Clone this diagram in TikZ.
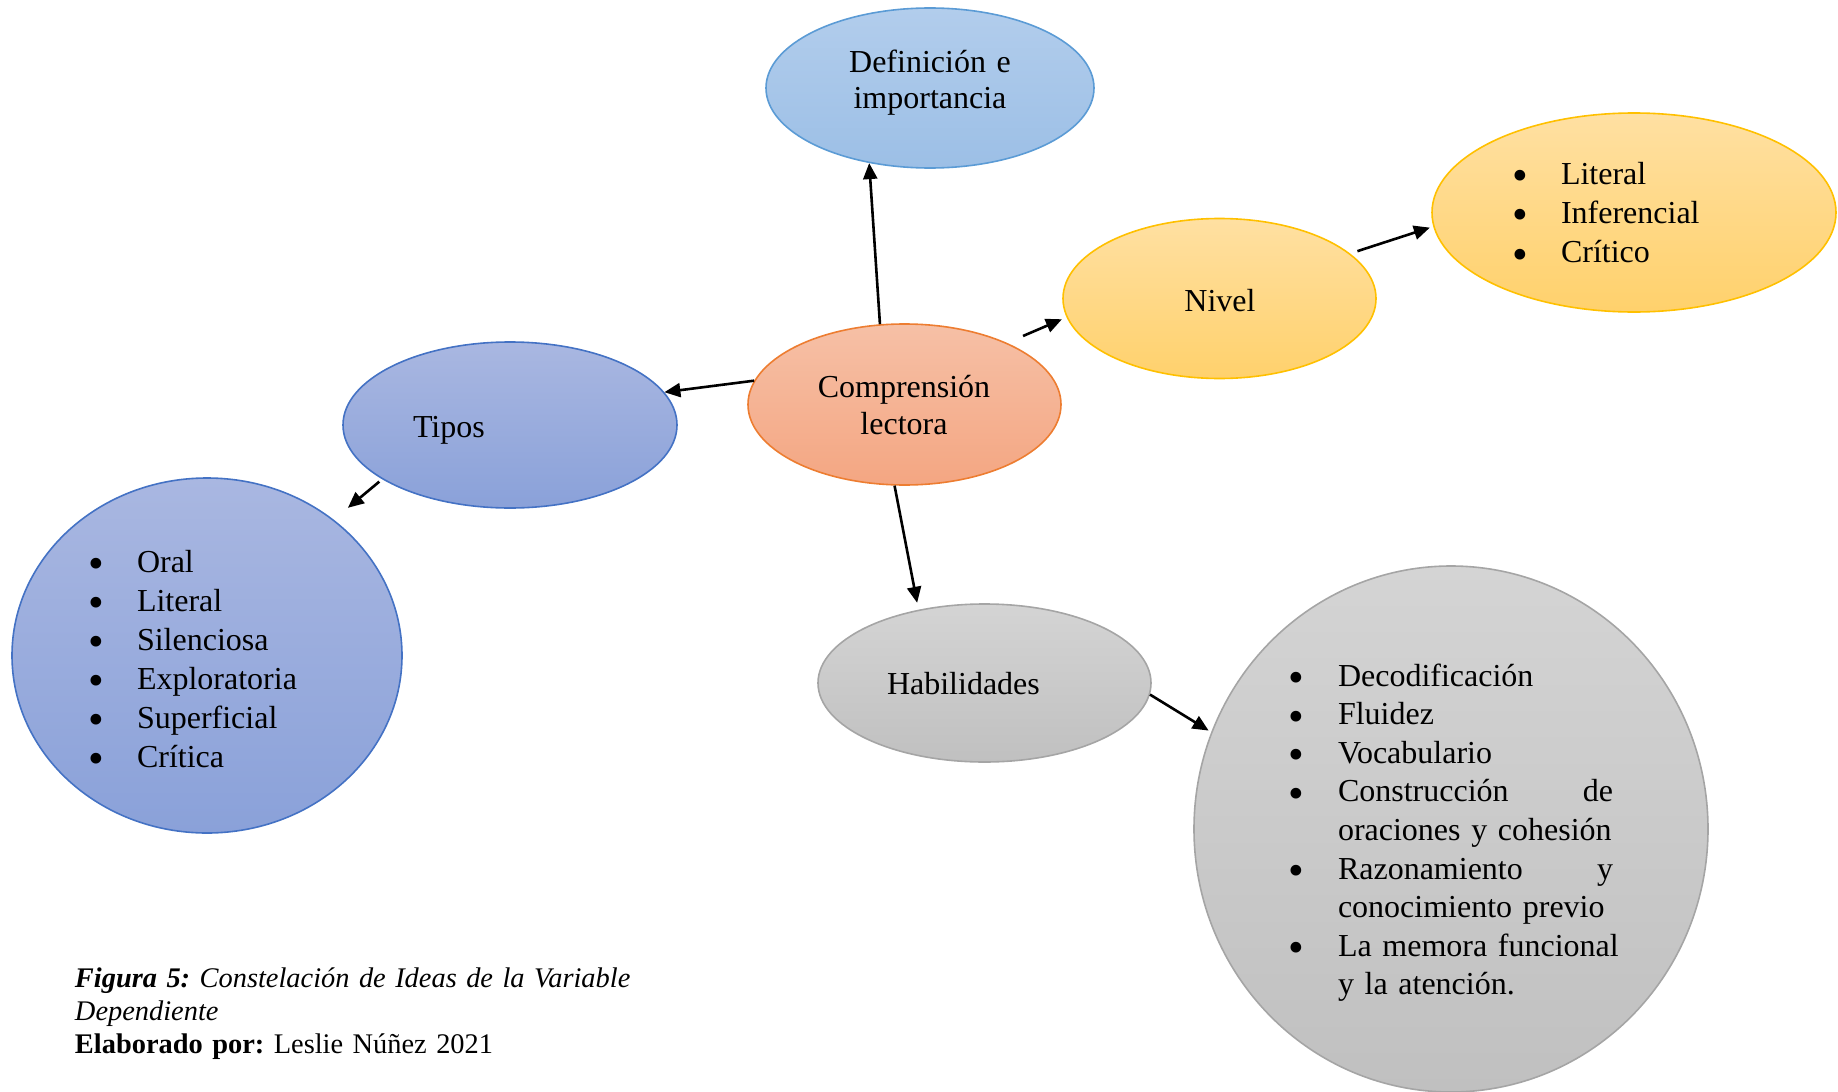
\documentclass[tikz,border=0pt]{standalone}
\usepackage{fontspec}
\setmainfont{Liberation Serif}
\usetikzlibrary{shapes.geometric,arrows.meta}
\definecolor{defB}{HTML}{5B9BD5}\definecolor{defT}{HTML}{B2CDEC}\definecolor{defD}{HTML}{9CBFE6}
\definecolor{cmpB}{HTML}{ED7D31}\definecolor{cmpT}{HTML}{F6C0A6}\definecolor{cmpD}{HTML}{F4A682}
\definecolor{ylwB}{HTML}{FFC000}\definecolor{ylwT}{HTML}{FFE0A2}\definecolor{ylwD}{HTML}{FFD16C}
\definecolor{bluB}{HTML}{4472C4}\definecolor{bluT}{HTML}{A9B7E1}\definecolor{bluD}{HTML}{8AA1D9}
\definecolor{gryB}{HTML}{A5A5A5}\definecolor{gryT}{HTML}{D4D4D4}\definecolor{gryD}{HTML}{C0C0C0}
\frenchspacing
\newlength\bltind
\newlength\bltw
\newcommand\bltmark{\smash{\raisebox{-3.2pt}{\scalebox{1.4}{\textbullet}}}}
\newcommand\bltf[1]{\noindent\hangindent=\bltind\hangafter=1\makebox[\bltind][l]{\bltmark}#1}
\newcommand\blt[1]{\par\bltf{#1}}
\newcommand\jline[1]{\makebox[\bltw][l]{#1}}
\newcommand\brk{\hfil\break}
\tikzset{
  bub/.style={ellipse, inner sep=0pt, line width=0.8pt},
  lbl/.style={font=\fontsize{16}{18.5}\selectfont, inner sep=0pt, outer sep=0pt},
  conn/.style={line width=1.3pt, -{Triangle[length=8pt,width=7pt]}},
}
\begin{document}
\begin{tikzpicture}[x=0.5pt,y=-0.5pt]
\useasboundingbox (0,0) rectangle (1838,1092);
% ellipses
\node[bub, draw=defB, top color=defT, bottom color=defD, minimum width=164pt, minimum height=80pt] (def) at (930,88) {};
\node[bub, draw=cmpB, top color=cmpT, bottom color=cmpD, minimum width=156.5pt, minimum height=80.5pt] (comp) at (904.5,404.5) {};
\node[bub, draw=ylwB, top color=ylwT, bottom color=ylwD, minimum width=156.5pt, minimum height=80pt] (nivel) at (1219.5,298.5) {};
\node[bub, draw=ylwB, top color=ylwT, bottom color=ylwD, minimum width=202pt, minimum height=99.5pt] (lit) at (1634,212.5) {};
\node[bub, draw=bluB, top color=bluT, bottom color=bluD, minimum width=167pt, minimum height=83pt] (tipos) at (510,425) {};
\node[bub, draw=bluB, top color=bluT, bottom color=bluD, minimum width=195pt, minimum height=177.5pt] (oral) at (207,655.5) {};
\node[bub, draw=gryB, top color=gryT, bottom color=gryD, minimum width=166.5pt, minimum height=79pt] (hab) at (984.5,683) {};
\node[bub, draw=gryB, top color=gryT, bottom color=gryD, minimum width=257pt, minimum height=263pt] (dec) at (1451,829) {};
% labels
\node[lbl, anchor=base, text width=150pt, align=center, font=\fontsize{16}{18}\selectfont] (deftxt) at (930,72) {Definición e\\importancia};
\node[lbl, anchor=base, text width=150pt, align=center] (comptxt) at (904,397) {Comprensión\\lectora};
\node[lbl, anchor=base] (niveltxt) at (1220,311) {Nivel};
\node[lbl, anchor=base west] (tipostxt) at (413,437) {Tipos};
\node[lbl, anchor=base west] (habtxt) at (887,694) {Habilidades};
% lists
\node[lbl, anchor=base west, text width=170pt, align=left, font=\fontsize{16}{19.75}\selectfont] (littxt) at (1512.2,184)
  {\setlength\bltind{24.4pt}\bltf{Literal}\blt{Inferencial}\blt{Crítico}\par};
\node[lbl, anchor=base west, text width=170pt, align=left, font=\fontsize{16}{19.5}\selectfont] (oraltxt) at (88.2,572)
  {\setlength\bltind{24.4pt}\bltf{Oral}\blt{Literal}\blt{Silenciosa}\blt{Exploratoria}\blt{Superficial}\blt{Crítica}\par};
\node[lbl, anchor=base west, text width=180pt, align=left, font=\fontsize{16}{19.3}\selectfont] (dectxt) at (1288.2,686)
  {\setlength\bltind{24.9pt}\setlength\bltw{137.5pt}%
   \bltf{Decodificación}\blt{Fluidez}\blt{Vocabulario}%
   \blt{\jline{Construcción\hfill de}\brk\mbox{oraciones y cohesión}}%
   \blt{\jline{Razonamiento\hfill y}\brk\mbox{conocimiento previo}}%
   \blt{\mbox{La memora funcional}\brk\mbox{y la atención.}}\par};
% caption
\node[lbl, anchor=base west, text width=330pt, align=left, font=\fontsize{14.2}{16.5}\selectfont] (cap) at (75,987)
  {\textbf{\textit{Figura 5:}} \textit{Constelación de Ideas de la Variable}\\
   \textit{Dependiente}\\
   \textbf{Elaborado por:} Leslie Núñez 2021};
% connectors
\draw[conn] (comp.107) -- (def.231);
\draw[conn] (comp.171) -- (tipos.12);
\draw[conn, shorten <=8.7pt, shorten >=2.5pt] (comp.31) -- (nivel.187);
\draw[conn, shorten <=3.8pt, shorten >=1.75pt] (nivel.19) -- (lit.184);
\draw[conn, shorten <=1.85pt, shorten >=9.2pt] (tipos.203) -- (oral.47);
\draw[conn, shorten >=3.5pt] (comp.263) -- (hab.132);
\draw[conn, shorten >=1.5pt] (hab.356) -- (dec.158);
\end{tikzpicture}
\end{document}
